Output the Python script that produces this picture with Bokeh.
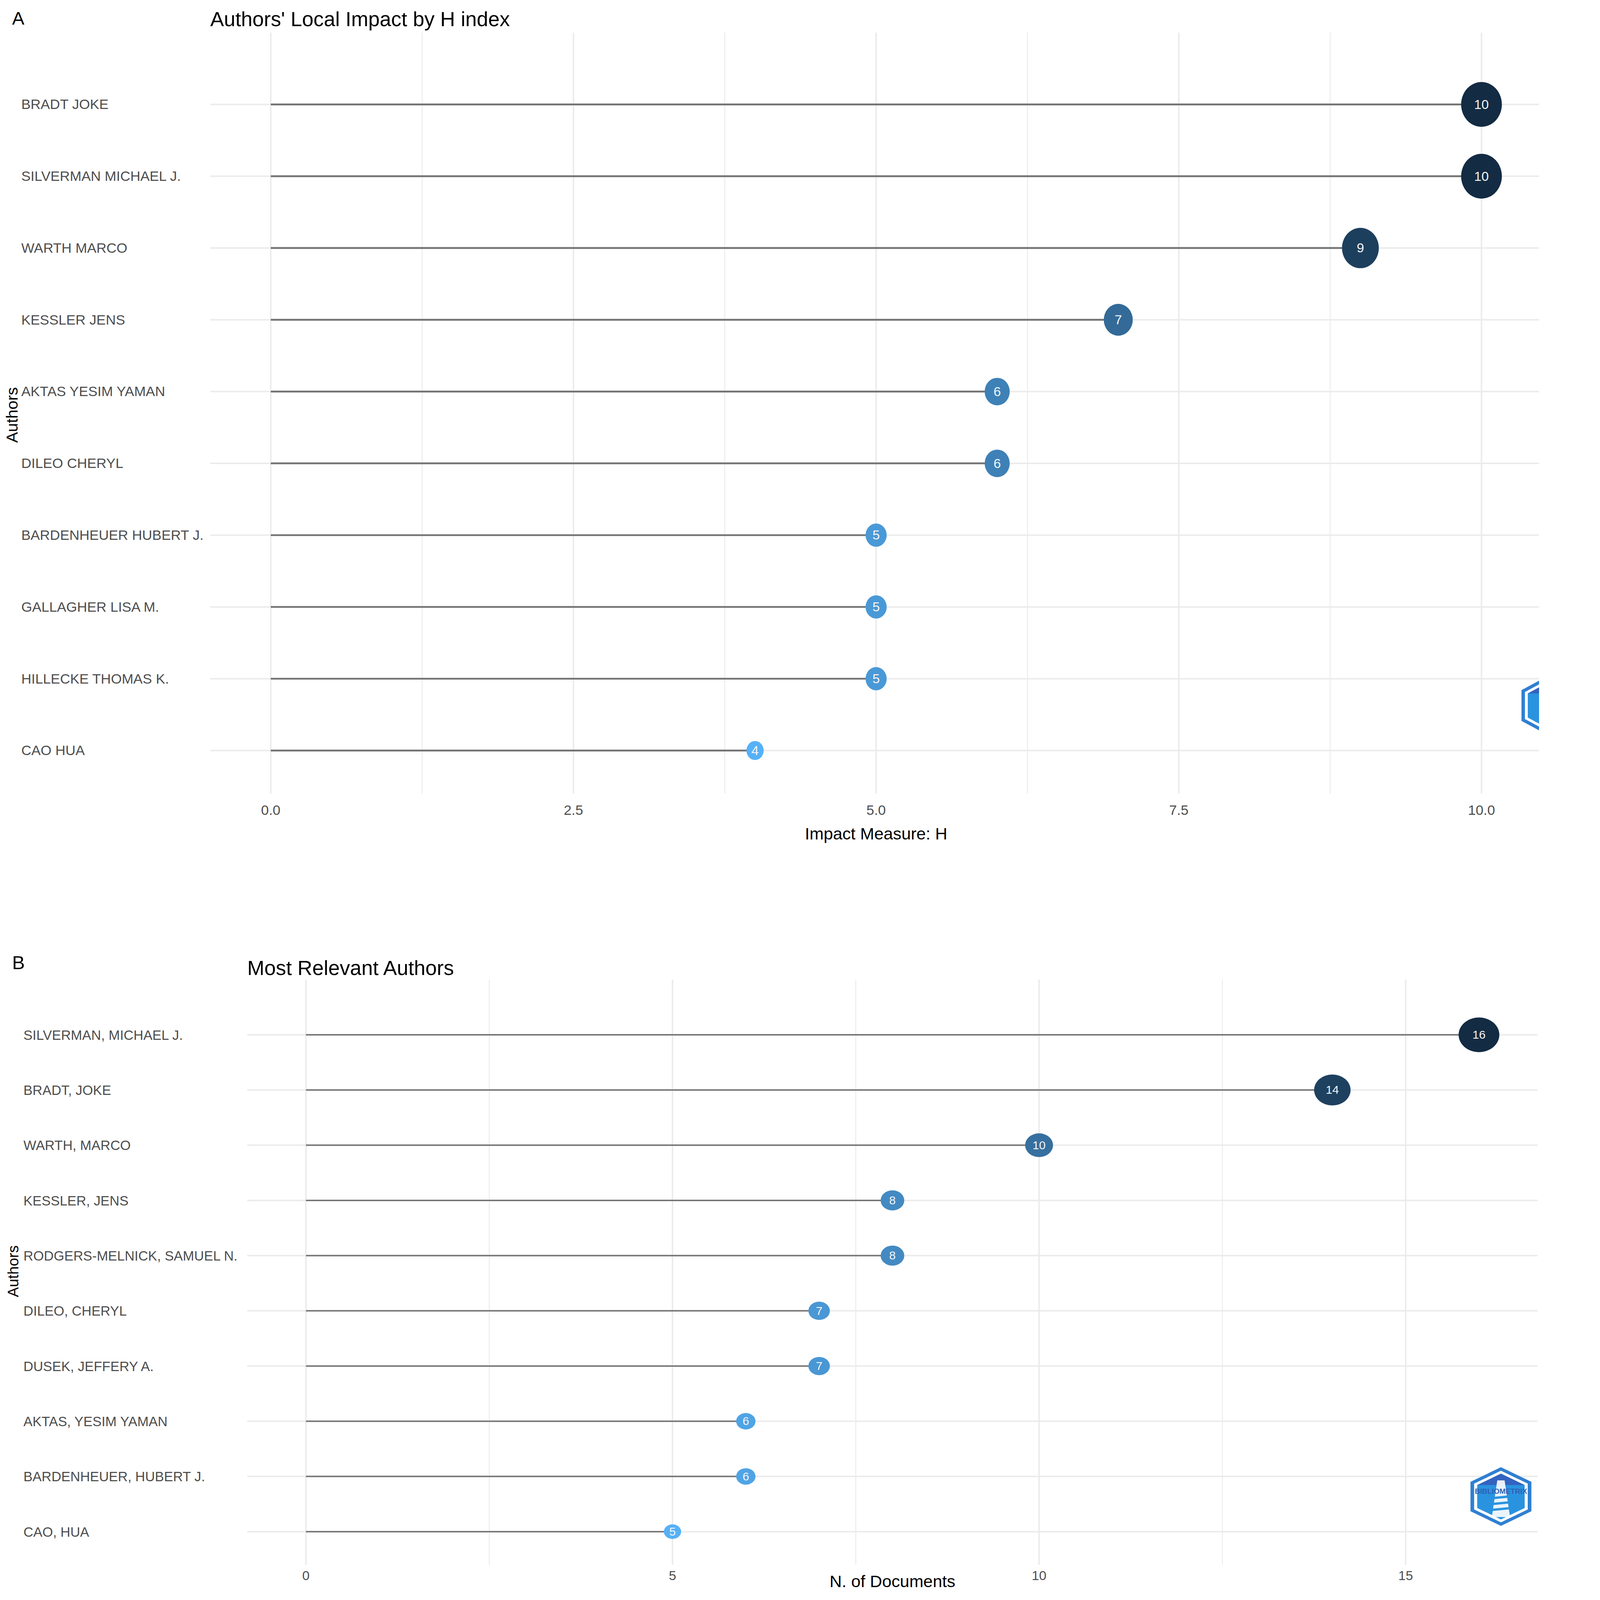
import math
from bokeh.plotting import figure
from bokeh.models import Range1d, ColumnDataSource
from bokeh.layouts import column
from bokeh.transform import linear_cmap
from bokeh.core.properties import value
from bokeh.embed import file_html
from bokeh.resources import INLINE

# ---------------- data ----------------
a_authors = ["BRADT JOKE", "SILVERMAN MICHAEL J.", "WARTH MARCO", "KESSLER JENS",
             "AKTAS YESIM YAMAN", "DILEO CHERYL", "BARDENHEUER HUBERT J.",
             "GALLAGHER LISA M.", "HILLECKE THOMAS K.", "CAO HUA"]
a_h_index = [10, 10, 9, 7, 6, 6, 5, 5, 5, 4]
a_major_ticks = [0, 2.5, 5, 7.5, 10]
a_tick_labels = ["0.0", "2.5", "5.0", "7.5", "10.0"]
a_minor_ticks = [1.25, 3.75, 6.25, 8.75]

b_authors = ["SILVERMAN, MICHAEL J.", "BRADT, JOKE", "WARTH, MARCO", "KESSLER, JENS",
             "RODGERS-MELNICK, SAMUEL N.", "DILEO, CHERYL", "DUSEK, JEFFERY A.",
             "AKTAS, YESIM YAMAN", "BARDENHEUER, HUBERT J.", "CAO, HUA"]
b_documents = [16, 14, 10, 8, 8, 7, 7, 6, 6, 5]
b_major_ticks = [0, 5, 10, 15]
b_tick_labels = ["0", "5", "10", "15"]
b_minor_ticks = [2.5, 7.5, 12.5]

FONT = value("Liberation Sans")
GRID = "#EBEBEB"
TXT = "#4D4D4D"

# layout is specified in screenshot pixels; the page renders ~1.065x larger than CSS px
K = 1.0647
OFF = 0.5
FIG_W = int(4212 / K) - 16
H_A = int(round(2316 / K)) - 8
H_B = int(4359 / K) - 20 - H_A


# ------------- ggplot-like gradient (Lab interpolation) -------------
def _hex2rgb(h):
    h = h.lstrip("#")
    return [int(h[i:i + 2], 16) / 255 for i in (0, 2, 4)]


def _lin(c):
    return c / 12.92 if c <= 0.04045 else ((c + 0.055) / 1.055) ** 2.4


def _gam(c):
    c = max(0.0, min(1.0, c))
    return 12.92 * c if c <= 0.0031308 else 1.055 * c ** (1 / 2.4) - 0.055


WP = (0.95047, 1.0, 1.08883)


def _to_lab(h):
    r, g, b = [_lin(c) for c in _hex2rgb(h)]
    x = 0.4124 * r + 0.3576 * g + 0.1805 * b
    y = 0.2126 * r + 0.7152 * g + 0.0722 * b
    z = 0.0193 * r + 0.1192 * g + 0.9505 * b
    f = lambda t: t ** (1 / 3) if t > 0.008856 else 7.787 * t + 16 / 116
    fx, fy, fz = f(x / WP[0]), f(y / WP[1]), f(z / WP[2])
    return (116 * fy - 16, 500 * (fx - fy), 200 * (fy - fz))


def _from_lab(L, a, b):
    fy = (L + 16) / 116
    fx = fy + a / 500
    fz = fy - b / 200
    fi = lambda t: t ** 3 if t ** 3 > 0.008856 else (t - 16 / 116) / 7.787
    x, y, z = fi(fx) * WP[0], fi(fy) * WP[1], fi(fz) * WP[2]
    r = 3.2406 * x - 1.5372 * y - 0.4986 * z
    g = -0.9689 * x + 1.8758 * y + 0.0415 * z
    bb = 0.0557 * x - 0.2040 * y + 1.0570 * z
    return "#%02x%02x%02x" % tuple(int(round(_gam(c) * 255)) for c in (r, g, bb))


def gradient(c_low, c_high, n=256):
    l0, l1 = _to_lab(c_low), _to_lab(c_high)
    return [_from_lab(*[l0[k] + (l1[k] - l0[k]) * i / (n - 1) for k in range(3)]) for i in range(n)]


PALETTE = gradient("#56B1F7", "#132B43")


def fs(px):
    return "%.1fpx" % (px / K)


def lollipop(authors, vals, major, major_labels, minor, xr, cfg, top_css, H):
    n = len(authors)
    W = FIG_W
    fx = lambda phys: phys / K - OFF
    fy = lambda phys: phys / K - OFF - top_css
    Lp, Rp, Tp, Bp = cfg["plot_box"]
    L, R, T, B = fx(Lp), fx(Rp), fy(Tp), fy(Bp)
    yr = (0.4, n + 1.0)
    ux = (R - L) / (xr[1] - xr[0])
    uy = (B - T) / (yr[1] - yr[0])
    x_start, x_end = xr[0] - L / ux, xr[1] + (W - R) / ux
    y_start, y_end = yr[0] - (H - B) / uy, yr[1] + T / uy
    X = lambda phys: x_start + fx(phys) / ux
    Y = lambda phys: y_end - fy(phys) / uy

    ypos = [n - i for i in range(n)]
    w = [(cfg["w0"] + cfg["w1"] * v) / K for v in vals]
    src = ColumnDataSource(dict(
        name=authors, val=vals, y=ypos, lab=[str(v) for v in vals],
        w=w, h=[wi * cfg["aspect"] for wi in w],
    ))
    p = figure(width=W, height=H, x_range=Range1d(x_start, x_end), y_range=Range1d(y_start, y_end),
               x_axis_location=None, y_axis_location=None, toolbar_location=None,
               output_backend="svg", min_border=0)
    p.grid.visible = False
    p.outline_line_color = None
    p.background_fill_color = "white"
    p.border_fill_color = "white"

    gw = cfg["grid_w"] / K
    p.segment(x0=minor, x1=minor, y0=[yr[0]] * len(minor), y1=[yr[1]] * len(minor),
              line_color=GRID, line_width=gw * 0.6)
    p.segment(x0=major, x1=major, y0=[yr[0]] * len(major), y1=[yr[1]] * len(major),
              line_color=GRID, line_width=gw)
    p.segment(x0=[xr[0]] * n, x1=[xr[1]] * n, y0=ypos, y1=ypos, line_color=GRID, line_width=gw)

    # x tick labels
    p.text(x=major, y=[Y(cfg["tick_y"])] * len(major), text=major_labels,
           text_align="center", text_baseline="middle", text_font=FONT,
           text_font_size=fs(cfg["tick_fs"]), text_color=TXT)

    # lollipops
    p.segment(x0=0, y0="y", x1="val", y1="y", source=src,
              line_color="#747474", line_width=cfg["seg_w"] / K)
    p.ellipse(x="val", y="y", width="w", height="h", width_units="screen", height_units="screen",
              source=src, line_color=None,
              fill_color=linear_cmap("val", PALETTE, low=min(vals), high=max(vals)))
    p.text(x="val", y="y", text="lab", source=src, text_align="center", text_baseline="middle",
           text_color="#F5F5F5", text_font=FONT, text_font_size=fs(cfg["dot_fs"]))

    # author names (left aligned, as in the reference)
    p.text(x=X(cfg["name_x"]), y="y", text="name", source=src, text_align="left",
           text_baseline="middle", text_font=FONT, text_font_size=fs(cfg["name_fs"]), text_color=TXT)

    # panel letter, title, axis titles
    p.text(x=[X(cfg["letter"][0])], y=[Y(cfg["letter"][1])], text=[cfg["letter_text"]],
           text_baseline="alphabetic", text_font=FONT, text_font_size=fs(cfg["letter_fs"]),
           text_color="black")
    p.text(x=[X(Lp)], y=[Y(cfg["title_y"])], text=[cfg["title"]],
           text_baseline="alphabetic", text_font=FONT, text_font_size=fs(cfg["title_fs"]),
           text_color="black")
    p.text(x=[X((Lp + Rp) / 2)], y=[Y(cfg["xlab_y"])], text=[cfg["xlab"]],
           text_align="center", text_baseline="alphabetic", text_font=FONT,
           text_font_size=fs(cfg["xlab_fs"]), text_color="black")
    p.text(x=[X(cfg["ylab"][0])], y=[Y(cfg["ylab"][1])], text=["Authors"],
           text_align="center", text_baseline="middle", text_font=FONT, angle=math.pi / 2,
           text_font_size=fs(cfg["ylab_fs"]), text_color="black")

    # Bibliometrix logo (simplified)
    cx, cy, rx, ry = cfg["logo"]

    def poly(pts):
        return [X(a) for a, _ in pts], [Y(b) for _, b in pts]

    def hexagon(s):
        return poly([(cx, cy - ry * s), (cx + rx * s, cy - ry * s * 0.5), (cx + rx * s, cy + ry * s * 0.5),
                     (cx, cy + ry * s), (cx - rx * s, cy + ry * s * 0.5), (cx - rx * s, cy - ry * s * 0.5)])

    for s, col in [(1.0, "#2f7fd2"), (0.88, "#ffffff"), (0.78, "#2a93df")]:
        xs, ys = hexagon(s)
        p.patch(xs, ys, fill_color=col, line_color=None)
    xs, ys = poly([(cx, cy - ry * 0.78), (cx + rx * 0.78, cy - ry * 0.39), (cx - rx * 0.78, cy - ry * 0.39)])
    p.patch(xs, ys, fill_color="#3463c0", line_color=None)
    xs, ys = poly([(cx - rx * 0.12, cy - ry * 0.55), (cx + rx * 0.12, cy - ry * 0.55),
                   (cx + rx * 0.3, cy + ry * 0.7), (cx - rx * 0.3, cy + ry * 0.7)])
    p.patch(xs, ys, fill_color="#ffffff", fill_alpha=0.9, line_color=None)
    for k in range(3):
        yy = cy + ry * (0.05 + 0.2 * k)
        xs, ys = poly([(cx - rx * 0.35, yy - ry * 0.03), (cx + rx * 0.35, yy - ry * 0.1),
                       (cx + rx * 0.35, yy - ry * 0.02), (cx - rx * 0.35, yy + ry * 0.05)])
        p.patch(xs, ys, fill_color="#2a93df", line_color=None)
    if cfg["logo_text"]:
        p.text(x=[X(cx)], y=[Y(cy - ry * 0.18)], text=["BIBLIOMETRIX"], text_align="center",
               text_baseline="middle", text_font=FONT, text_font_style="bold",
               text_font_size=fs(rx * 0.24), text_color="#2d5fb5")
    return p


# all positions below are in pixels of the 4212x4359 page
cfg_a = dict(plot_box=(573, 4203, 89, 2163),
             w0=4.3, w1=10.67, aspect=1.1, tick_fs=38, tick_y=2208, grid_w=4,
             seg_w=5, dot_fs=36, name_x=58, name_fs=38,
             letter=(33, 50), letter_text="A", letter_fs=50,
             title="Authors' Local Impact by H index", title_y=52, title_fs=56,
             xlab="Impact Measure: H", xlab_y=2272, xlab_fs=46,
             ylab=(33, 1131), ylab_fs=44, logo=(4225, 1923, 78, 84), logo_text=False)

cfg_b = dict(plot_box=(674, 4191, 2670, 4265),
             w0=17.9, w1=5.82, aspect=0.85, tick_fs=36, tick_y=4294, grid_w=4,
             seg_w=4, dot_fs=32, name_x=64, name_fs=37,
             letter=(33, 2623), letter_text="B", letter_fs=52,
             title="Most Relevant Authors", title_y=2638, title_fs=56,
             xlab="N. of Documents", xlab_y=4310, xlab_fs=46,
             ylab=(36, 3465), ylab_fs=41, logo=(4091, 4079, 83, 80), logo_text=True)

pa = lollipop(a_authors, a_h_index, a_major_ticks, a_tick_labels, a_minor_ticks, (-0.5, 10.5),
              cfg_a, 0, H_A)
pb = lollipop(b_authors, b_documents, b_major_ticks, b_tick_labels, b_minor_ticks, (-0.8, 16.8),
              cfg_b, H_A, H_B)

layout = column(pa, pb)
open("out.html", "w").write(file_html(layout, INLINE))
